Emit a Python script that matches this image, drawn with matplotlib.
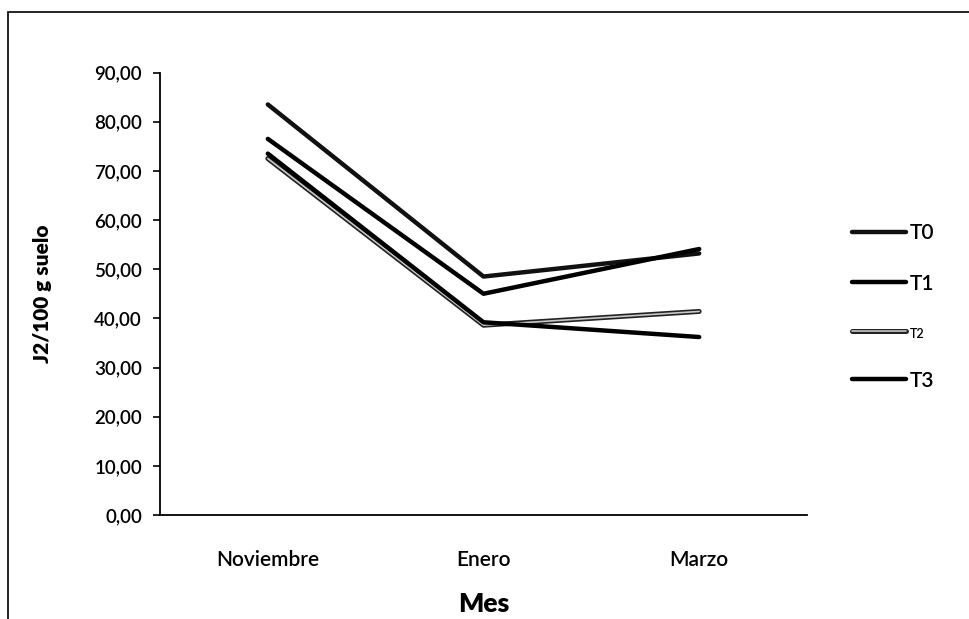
import matplotlib.pyplot as plt
import matplotlib.patheffects as pe
from matplotlib.patches import Rectangle
from matplotlib.ticker import FuncFormatter

# ================= datos =================
meses = ["Noviembre", "Enero", "Marzo"]
t0 = [83.5, 48.5, 53.2]
t1 = [76.5, 45.0, 54.1]
t2 = [72.5, 38.6, 41.4]
t3 = [73.5, 39.2, 36.2]

plt.rcParams['font.family'] = ['Lato', 'DejaVu Sans']

fig = plt.figure(figsize=(9.69, 6.19), dpi=100)
ax = fig.add_axes([160 / 969, 1 - 515 / 619, 647 / 969, (515 - 72.5) / 619])

# marco exterior (se sale por la derecha y abajo)
fig.patches.append(Rectangle((8 / 969, -0.2), 1.2, 1.2 - 12 / 619,
                             transform=fig.transFigure, fill=False,
                             edgecolor='black', lw=1.2, clip_on=False))

x = range(len(meses))
ax.plot(x, t0, color='#111111', lw=3.2, label='T0', solid_capstyle='round')
ax.plot(x, t1, color='#000000', lw=3.2, label='T1', solid_capstyle='round')
ax.plot(x, t2, color='#c8c8c8', lw=1.2, label='T2', solid_capstyle='round',
        path_effects=[pe.Stroke(linewidth=3.6, foreground='#222222'), pe.Normal()])
ax.plot(x, t3, color='#000000', lw=3.2, label='T3', solid_capstyle='round')

ax.set_xlim(-0.5, 2.5)
ax.set_ylim(0, 90)
ax.set_yticks(range(0, 91, 10))
ax.yaxis.set_major_formatter(FuncFormatter(lambda v, p: f"{v:.2f}".replace('.', ',')))
ax.set_xticks(list(x))
ax.set_xticklabels(meses)

ax.spines['top'].set_visible(False)
ax.spines['right'].set_visible(False)
ax.spines['left'].set_linewidth(1.3)
ax.spines['bottom'].set_linewidth(1.3)
ax.tick_params(axis='y', direction='out', length=5, width=1.2, labelsize=13.5, pad=8)
ax.tick_params(axis='x', length=0, labelsize=15, pad=25)
for lbl in ax.get_yticklabels() + ax.get_xticklabels():
    lbl.set_fontweight('semibold')

ax.set_ylabel("J2/100 g suelo", fontsize=15, fontweight='heavy', labelpad=30)
ax.set_xlabel("Mes", fontsize=19, fontweight='heavy', labelpad=16)

leg = ax.legend(loc='center left', bbox_to_anchor=(1.04, 0.47), frameon=False,
                fontsize=15, handlelength=2.6, handletextpad=0.2, labelspacing=1.45)
for txt in leg.get_texts():
    txt.set_fontweight('semibold')
    if txt.get_text() == 'T2':
        txt.set_fontsize(9)

fig.savefig("out.png", dpi=100)
